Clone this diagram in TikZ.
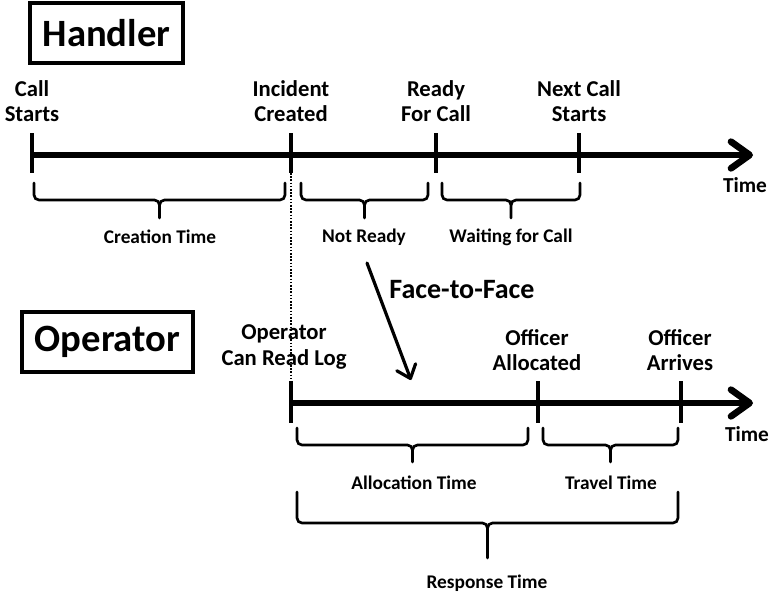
\documentclass[tikz,border=0pt]{standalone}
\usepackage{fontspec}
\setmainfont{Carlito}
\usetikzlibrary{arrows.meta}
\newcommand\mybrace[5]{%
  \pgfmathsetmacro\bm{(#1+#2)/2}%
  \pgfmathsetmacro\bml{\bm-5}%
  \pgfmathsetmacro\bmr{\bm+5}%
  \pgfmathsetmacro\bxl{#1+5}%
  \pgfmathsetmacro\bxr{#2-5}%
  \pgfmathsetmacro\byc{#4-5}%
  \pgfmathsetmacro\byd{#4+5}%
  \draw[bracestyle] (#1,#3) -- (#1,\byc) to[out=-90,in=180] (\bxl,#4) -- (\bml,#4) to[out=0,in=90] (\bm,\byd) -- (\bm,#5);
  \draw[bracestyle] (#2,#3) -- (#2,\byc) to[out=-90,in=0] (\bxr,#4) -- (\bmr,#4) to[out=180,in=90] (\bm,\byd);
}
\begin{document}
\begin{tikzpicture}[x=0.75pt,y=-0.75pt,
  titlebox/.style={draw,line width=2.5pt,inner sep=0pt,font=\fontsize{29}{33}\selectfont\bfseries},
  evlabel/.style={align=center,inner sep=0pt,font=\fontsize{17}{19}\selectfont\bfseries},
  spanlabel/.style={inner sep=0pt,font=\fontsize{14.5}{17}\selectfont\bfseries},
  timelabel/.style={inner sep=0pt,font=\fontsize{16}{18}\selectfont\bfseries},
  timeline/.style={line width=5pt,-{Straight Barb[length=14pt,width=20pt,round]}},
  tickmark/.style={line width=3pt},
  bracestyle/.style={line width=2pt,line cap=round},
]
\useasboundingbox (0,0) rectangle (771,593);

% boxes
\node[titlebox,minimum width=114.75pt,minimum height=45pt] (handler) at (106.5,33) {Handler};
\node[titlebox,minimum width=128.25pt,minimum height=45pt] (operator) at (107.5,342) {Operator};

% top timeline
\coordinate (h0) at (32,155);
\coordinate (h1) at (291,155);
\coordinate (h2) at (436,155);
\coordinate (h3) at (579,155);
\coordinate (hend) at (753,155);
\draw[timeline] (h0) -- (hend);
\foreach \c in {h0,h1,h2,h3} \draw[tickmark] ([yshift=16.5pt]\c) -- ([yshift=-13.5pt]\c);

\node[evlabel] (callstarts) at (32,101) {Call\\Starts};
\node[evlabel] (incident) at (291,101) {Incident\\Created};
\node[evlabel] (ready) at (436,101) {Ready\\For Call};
\node[evlabel] (nextcall) at (579,101) {Next Call\\Starts};
\node[timelabel] (htime) at (745,185) {Time};

\mybrace{34}{285}{183}{200}{218}
\mybrace{301}{428}{183}{200}{218}
\mybrace{442}{580}{183}{200}{218}
\node[spanlabel] (creation) at (160,237) {Creation Time};
\node[spanlabel] (notready) at (364,237) {Not Ready};
\node[spanlabel] (waiting) at (511,237) {Waiting for Call};

% bottom timeline
\coordinate (o0) at (291,403);
\coordinate (o1) at (538,403);
\coordinate (o2) at (681,403);
\coordinate (oend) at (753,403);
\draw[timeline] (o0) -- (oend);
\foreach \c in {o0,o1,o2} \draw[tickmark] ([yshift=16.5pt]\c) -- ([yshift=-15pt]\c);

\node[evlabel] (canread) at (284,347) {Operator\\Can Read Log};
\node[evlabel] (allocated) at (537,350) {Officer\\Allocated};
\node[evlabel] (arrives) at (680,350) {Officer\\Arrives};
\node[timelabel] (otime) at (747,434) {Time};

\mybrace{297}{528}{428}{445}{462}
\mybrace{543}{678}{428}{445}{462}
\mybrace{297}{678}{492}{523}{558}
\node[spanlabel] (allocation) at (414,483) {Allocation Time};
\node[spanlabel] (travel) at (611,483) {Travel Time};
\node[spanlabel] (response) at (487,583) {Response Time};

% dotted link
\coordinate (dtop) at (291,173);
\coordinate (dbot) at (291,381);
\draw[line width=1.2pt,dash pattern=on 1.2pt off 1.2pt] (dtop) -- (dbot);

% face-to-face arrow
\coordinate (fa) at (367,263);
\coordinate (fb) at (411,380);
\draw[line width=2.4pt,line cap=round,-{Straight Barb[length=9pt,width=15pt,round]}] (fa) -- (fb);
\node[inner sep=0pt,font=\fontsize{21}{24}\selectfont\bfseries] (f2f) at (462,290) {Face-to-Face};
\end{tikzpicture}
\end{document}
